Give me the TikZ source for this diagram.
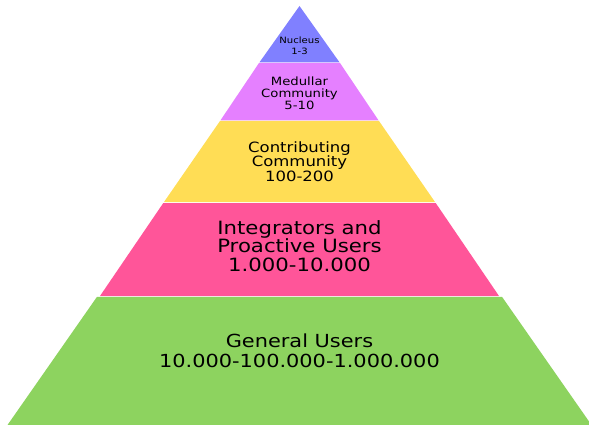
\documentclass[tikz,border=0pt]{standalone}
\usepackage{fontspec}
\newfontfamily\pyr[FakeStretch=1.16]{DejaVu Sans}
\definecolor{cNuc}{HTML}{8080FF}
\definecolor{cMed}{HTML}{E580FF}
\definecolor{cCon}{HTML}{FFDD55}
\definecolor{cInt}{HTML}{FF5599}
\definecolor{cGen}{HTML}{8DD35F}
\tikzset{
  layer/.style={fill=#1, draw=none},
  lbl/.style={anchor=base, inner sep=0pt, text=black},
  fNuc/.style={font=\pyr\fontsize{8.7}{10}\selectfont},
  fMed/.style={font=\pyr\fontsize{11.4}{13}\selectfont},
  fCon/.style={font=\pyr\fontsize{14.2}{16}\selectfont},
  fInt/.style={font=\pyr\fontsize{18.3}{20}\selectfont},
  fGen/.style={font=\pyr\fontsize{18}{20}\selectfont},
}
\begin{document}
\begin{tikzpicture}[x=1pt,y=-1pt]
\useasboundingbox (0,0) rectangle (589,425);
\def\cx{299.5}
% layers
\fill[layer=cNuc] (\cx,6) -- (\cx+40,62.3) -- (\cx-40,62.3) -- cycle;
\fill[layer=cMed] (\cx-40.5,63) -- (\cx+40.5,63) -- (\cx+79,120.3) -- (\cx-79,120.3) -- cycle;
\fill[layer=cCon] (\cx-79.5,121) -- (\cx+79.5,121) -- (\cx+135.5,202) -- (\cx-135.5,202) -- cycle;
\fill[layer=cInt] (\cx-136.2,203) -- (\cx+136.2,203) -- (\cx+199.5,296) -- (\cx-199.5,296) -- cycle;
\fill[layer=cGen] (\cx-202.5,296.8) -- (\cx+202.5,296.8) -- (\cx+292,425) -- (\cx-292,425) -- cycle;
% labels
\node[lbl,fNuc] (nuc1) at (\cx,44) {Nucleus};
\node[lbl,fNuc] (nuc2) at (\cx,54.3) {1-3};
\node[lbl,fMed] (med1) at (\cx,85.3) {Medullar};
\node[lbl,fMed] (med2) at (\cx,97.3) {Community};
\node[lbl,fMed] (med3) at (\cx,109.7) {5-10};
\node[lbl,fCon] (con1) at (\cx,152.5) {Contributing};
\node[lbl,fCon] (con2) at (\cx,166.2) {Community};
\node[lbl,fCon] (con3) at (\cx,181.7) {100-200};
\node[lbl,fInt] (int1) at (\cx,234.5) {Integrators and};
\node[lbl,fInt] (int2) at (\cx,252) {Proactive Users};
\node[lbl,fInt] (int3) at (\cx,271) {1.000-10.000};
\node[lbl,fGen] (gen1) at (\cx,347.7) {General Users};
\node[lbl,fGen] (gen2) at (\cx,367.7) {10.000-100.000-1.000.000};
\end{tikzpicture}
\end{document}
